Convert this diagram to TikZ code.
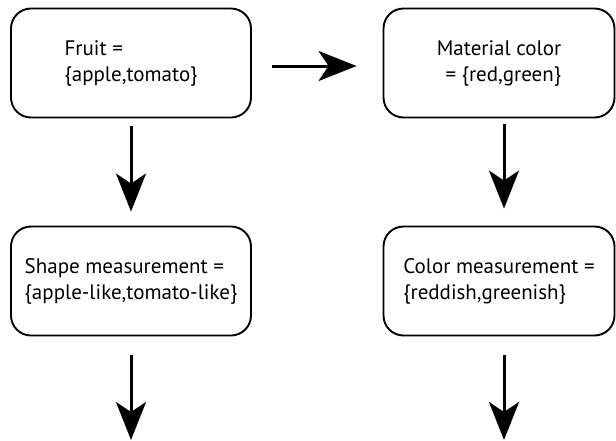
\documentclass[tikz,border=0pt]{standalone}
\usepackage{fontspec}
\setmainfont{PT Sans}
\usepackage{tikz}
\usetikzlibrary{arrows.meta,positioning,calc}

\begin{document}
\begin{tikzpicture}[x=1pt,y=-1pt,
	box/.style={draw,line width=1.9pt,rounded corners=20pt,minimum height=109pt,
		font=\fontsize{21}{26}\selectfont,inner sep=0pt},
	arr/.style={line width=3pt,-{Stealth[length=38pt,width=30pt,inset=10pt]}}]
	\useasboundingbox (0,0) rectangle (616,440);
	% the four boxes
	\node[box,minimum width=240pt,align=left] (fruit) at (131,63) {Fruit =\\\{apple,tomato\}};
	\node[box,minimum width=231pt,align=right] (mat) at (499,63) {Material color\\= \{red,green\}};
	\node[box,minimum width=240pt,align=left] (shape) at (131,281) {Shape measurement =\\\{apple-like,tomato-like\}};
	\node[box,minimum width=231pt,align=left] (colm) at (499,281) {Color measurement =\\\{reddish,greenish\}};
	% free ends at the bottom
	\coordinate (endl) at (131,440);
	\coordinate (endr) at (504,440);
	% arrows
	\draw[arr,shorten <=20pt,shorten >=26pt] ([yshift=-3pt]fruit.east) -- ([yshift=-3pt]mat.west);
	\draw[arr,shorten <=8pt,shorten >=14pt] (fruit.south) -- (shape.north);
	\draw[arr,shorten <=6pt,shorten >=17pt] ([xshift=5pt]mat.south) -- ([xshift=5pt]colm.north);
	\draw[arr,shorten <=19pt] (shape.south) -- (endl);
	\draw[arr,shorten <=19pt] ([xshift=5pt]colm.south) -- (endr);
\end{tikzpicture}
\end{document}
